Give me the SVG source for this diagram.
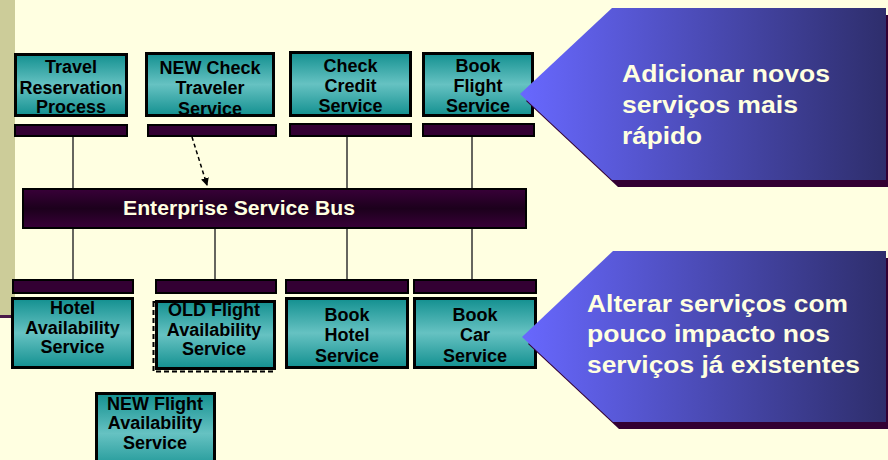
<svg xmlns="http://www.w3.org/2000/svg" width="888" height="460" viewBox="0 0 888 460">
<defs>
<linearGradient id="teal" x1="0" y1="0" x2="0" y2="1">
<stop offset="0" stop-color="#139090"/>
<stop offset="0.5" stop-color="#66c2c2"/>
<stop offset="1" stop-color="#139090"/>
</linearGradient>
<linearGradient id="bus" x1="0" y1="0" x2="0" y2="1">
<stop offset="0" stop-color="#380038"/>
<stop offset="0.5" stop-color="#1c001c"/>
<stop offset="1" stop-color="#380038"/>
</linearGradient>
<linearGradient id="blue1" gradientUnits="userSpaceOnUse" x1="520" y1="0" x2="886" y2="0">
<stop offset="0" stop-color="#6868ff"/>
<stop offset="1" stop-color="#2e2e6c"/>
</linearGradient>
<marker id="ah" markerWidth="8" markerHeight="8" refX="7" refY="4" orient="auto" markerUnits="userSpaceOnUse">
<path d="M0,0 L8,4 L0,8 Z" fill="#000"/>
</marker>
<style>
.node{fill:url(#teal);stroke:#000;stroke-width:3}
.bar{fill:#330033;stroke:#000;stroke-width:2}
.nt{font-family:"Liberation Sans",Arial,sans-serif;font-weight:bold;font-size:18px;fill:#000;text-anchor:middle}
.ct{font-family:"Liberation Sans",Arial,sans-serif;font-weight:bold;font-size:23px;fill:#ffffe0}
.ln{stroke:#333;stroke-width:1.5;fill:none}
.shadow{fill:#330033}
</style>
</defs>
<rect width="888" height="460" fill="#ffffe1"/>
<rect x="0" y="0" width="15" height="315" fill="#cccc99"/>
<rect x="0" y="315" width="14" height="3" fill="#4a1a4a"/>

<g id="connectors">
<line class="ln" x1="73" y1="137" x2="73" y2="188"/>
<line class="ln" x1="347" y1="137" x2="347" y2="188"/>
<line class="ln" x1="472" y1="137" x2="472" y2="188"/>
<line class="ln" x1="73" y1="229" x2="73" y2="279"/>
<line class="ln" x1="215" y1="229" x2="215" y2="279"/>
<line class="ln" x1="347" y1="229" x2="347" y2="279"/>
<line class="ln" x1="472" y1="229" x2="472" y2="279"/>
<line x1="192" y1="137" x2="207" y2="185" stroke="#000" stroke-width="1.5" stroke-dasharray="4 3" marker-end="url(#ah)"/>
</g>

<g id="travel">
<rect class="node" x="15.5" y="54.5" width="111" height="61"/>
<text class="nt" x="71" y="73">Travel</text>
<text class="nt" x="71" y="94">Reservation</text>
<text class="nt" x="71" y="113">Process</text>
<rect class="bar" x="15" y="125" width="112" height="11"/>
</g>

<g id="newcheck">
<rect x="146.5" y="53.5" width="127" height="62" fill="url(#teal)"/>
<text class="nt" x="210" y="74">NEW Check</text>
<text class="nt" x="210" y="94">Traveler</text>
<text class="nt" x="210" y="115">Service</text>
<rect x="146.5" y="53.5" width="127" height="62" fill="none" stroke="#000" stroke-width="3"/>
<rect class="bar" x="148" y="125" width="128" height="11"/>
</g>

<g id="checkcredit">
<rect class="node" x="290.5" y="52.5" width="120" height="63"/>
<text class="nt" x="350.5" y="72">Check</text>
<text class="nt" x="350.5" y="92">Credit</text>
<text class="nt" x="350.5" y="112">Service</text>
<rect class="bar" x="290" y="124" width="121" height="12"/>
</g>

<g id="bookflight">
<rect class="node" x="423.5" y="53.5" width="109" height="62"/>
<text class="nt" x="478" y="72">Book</text>
<text class="nt" x="478" y="92">Flight</text>
<text class="nt" x="478" y="112">Service</text>
<rect class="bar" x="423" y="124" width="111" height="12"/>
</g>

<g id="esb">
<rect x="23" y="189" width="503" height="39" fill="url(#bus)" stroke="#000" stroke-width="2"/>
<text x="123" y="215" textLength="232" lengthAdjust="spacingAndGlyphs" style="font-family:'Liberation Sans',Arial,sans-serif;font-weight:bold;font-size:20px;fill:#ffffe0">Enterprise Service Bus</text>
</g>

<g id="hotelavail">
<rect class="bar" x="13" y="280" width="120" height="13"/>
<rect class="node" x="12.5" y="298.5" width="120" height="69"/>
<text class="nt" x="72.5" y="314">Hotel</text>
<text class="nt" x="72.5" y="334">Availability</text>
<text class="nt" x="72.5" y="353">Service</text>
</g>

<g id="oldflight">
<rect class="bar" x="156" y="280" width="120" height="13"/>
<rect x="153.5" y="302" width="121" height="69.5" fill="none" stroke="#000" stroke-width="2" stroke-dasharray="5 3"/>
<rect class="node" x="156.5" y="301.5" width="118" height="67"/>
<text class="nt" x="214" y="316">OLD Flight</text>
<text class="nt" x="214" y="336">Availability</text>
<text class="nt" x="214" y="355">Service</text>
</g>

<g id="bookhotel">
<rect class="bar" x="286" y="280" width="122" height="13"/>
<rect class="node" x="286.5" y="298.5" width="121" height="69"/>
<text class="nt" x="347" y="321">Book</text>
<text class="nt" x="347" y="341">Hotel</text>
<text class="nt" x="347" y="362">Service</text>
</g>

<g id="bookcar">
<rect class="bar" x="414" y="280" width="122" height="13"/>
<rect class="node" x="414.5" y="298.5" width="121" height="69"/>
<text class="nt" x="475" y="321">Book</text>
<text class="nt" x="475" y="341">Car</text>
<text class="nt" x="475" y="362">Service</text>
</g>

<g id="newflight">
<rect class="node" x="96.5" y="393.5" width="118" height="80"/>
<text class="nt" x="155" y="410">NEW Flight</text>
<text class="nt" x="155" y="429">Availability</text>
<text class="nt" x="155" y="449">Service</text>
</g>

<g id="callout-add">
<polygon class="shadow" points="618,15 892,15 892,187 618,187 526,101"/>
<polygon points="612,8 886,8 886,180 612,180 520,94" fill="url(#blue1)"/>
<text class="ct" x="622" y="82" textLength="208" lengthAdjust="spacingAndGlyphs">Adicionar novos</text>
<text class="ct" x="622" y="113" textLength="176" lengthAdjust="spacingAndGlyphs">serviços mais</text>
<text class="ct" x="622" y="144" textLength="80" lengthAdjust="spacingAndGlyphs">rápido</text>
</g>

<g id="callout-alter">
<polygon class="shadow" points="619,258 892,258 892,429 619,429 528,344"/>
<polygon points="613,251 886,251 886,422 613,422 522,337" fill="url(#blue1)"/>
<text class="ct" x="587" y="312" textLength="261" lengthAdjust="spacingAndGlyphs">Alterar serviços com</text>
<text class="ct" x="587" y="342" textLength="243" lengthAdjust="spacingAndGlyphs">pouco impacto nos</text>
<text class="ct" x="587" y="373" textLength="273" lengthAdjust="spacingAndGlyphs">serviços já existentes</text>
</g>
</svg>
